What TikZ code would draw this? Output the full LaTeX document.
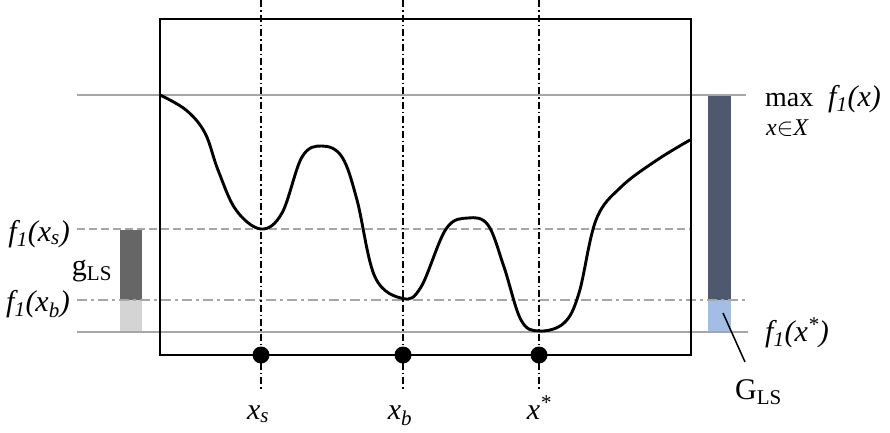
\documentclass[tikz,border=0pt]{standalone}
\usepackage{fontspec}
\setmainfont{Liberation Serif}
\definecolor{gline}{HTML}{A6A6A6}
\definecolor{dgbar}{HTML}{666666}
\definecolor{lgbar}{HTML}{D4D4D4}
\definecolor{dbbar}{HTML}{4E586F}
\definecolor{lbbar}{HTML}{A4BDE4}
\begin{document}
\begin{tikzpicture}[x=1pt,y=-1pt,
  lbl/.style={inner sep=0pt,font=\fontsize{30}{34}\selectfont},
  glevel/.style={draw=gline,line width=2.6pt},
  vguide/.style={draw=black,line width=1.1pt,dash pattern=on 7pt off 3pt on 1.5pt off 3pt},
  dotmark/.style={circle,fill=black,minimum size=17pt,inner sep=0pt},
  frame/.style={draw=black,line width=1.8pt},
  curve/.style={draw=black,line width=2.9pt,line join=round,line cap=round}]
\useasboundingbox (0,0) rectangle (890,432);
% bars
\fill[dgbar] (120,230) rectangle (142,300);
\fill[lgbar] (120,300) rectangle (142,332);
\fill[dbbar] (708,96) rectangle (731,300);
\fill[lbbar] (708,300) rectangle (731,332);
% level lines
\coordinate (maxL) at (77,95);   \coordinate (maxR) at (746,95);
\coordinate (fsL) at (77,229);   \coordinate (fsR) at (690,229);
\coordinate (fbL) at (77,300);   \coordinate (fbR) at (748,300);
\coordinate (fmL) at (77,332);   \coordinate (fmR) at (748,332);
\draw[glevel] (maxL) -- (maxR);
\draw[glevel,dash pattern=on 8pt off 4pt] (fsL) -- (fsR);
\draw[glevel,dash pattern=on 10pt off 4pt on 3pt off 4pt] (fbL) -- (fbR);
\draw[glevel] (fmL) -- (fmR);
% frame
\draw[frame] (160,19) rectangle (691,355);
% vertical guides
\coordinate (vsT) at (261,0); \coordinate (vsB) at (261,391);
\coordinate (vbT) at (403,0); \coordinate (vbB) at (403,391);
\coordinate (vxT) at (539,0); \coordinate (vxB) at (539,391);
\draw[vguide] (vsT) -- (vsB);
\draw[vguide] (vbT) -- (vbB);
\draw[vguide] (vxT) -- (vxB);
% curve
\draw[curve] plot[smooth,tension=0.6] coordinates {
(160,95) (186,110) (205,133) (218,170) (236,210) (261,229) (282,213) (302,157)
(322,146) (342,157) (357,200) (375,277) (403,298.5) (421,287) (446,229) (468,218)
(488,225) (504,267) (521,320) (539,331) (564,323) (579,293) (596,220) (621,187)
(657,160) (690,140)};
% dots
\node[dotmark] (ds) at (261,355) {};
\node[dotmark] (db) at (403,355) {};
\node[dotmark] (dx) at (539,355) {};
% labels
\node[lbl,anchor=base east] (lfs) at (70,241) {\textit{f\textsubscript{1}(x\textsubscript{s})}};
\node[lbl,anchor=base east] (lfb) at (70,311) {\textit{f\textsubscript{1}(x\textsubscript{b})}};
\node[lbl,anchor=base] (lg) at (92,275) {g\textsubscript{LS}};
\node[lbl,anchor=base west,font=\fontsize{28}{32}\selectfont] (lmax) at (765,106) {max};
\node[lbl,anchor=base west,font=\fontsize{24}{27}\selectfont] (lin) at (766,135) {\textit{x}$\in$\textit{X}};
\node[lbl,anchor=base west] (lfx) at (828,106) {\textit{f\textsubscript{1}(x)}};
\node[lbl,anchor=base west] (lfm) at (765,341) {\textit{f\textsubscript{1}(x\textsuperscript{*})}};
\node[lbl,anchor=base west] (lG) at (735,399) {G\textsubscript{LS}};
\coordinate (gp) at (723,313);
\coordinate (ge) at (745,362);
\draw[black,line width=1.5pt] (gp) -- (ge);
\node[lbl,anchor=base] (lxs) at (258,419) {\textit{x\textsubscript{s}}};
\node[lbl,anchor=base] (lxb) at (400,419) {\textit{x\textsubscript{b}}};
\node[lbl,anchor=base] (lxx) at (539,419) {\textit{x\textsuperscript{*}}};
\end{tikzpicture}
\end{document}
